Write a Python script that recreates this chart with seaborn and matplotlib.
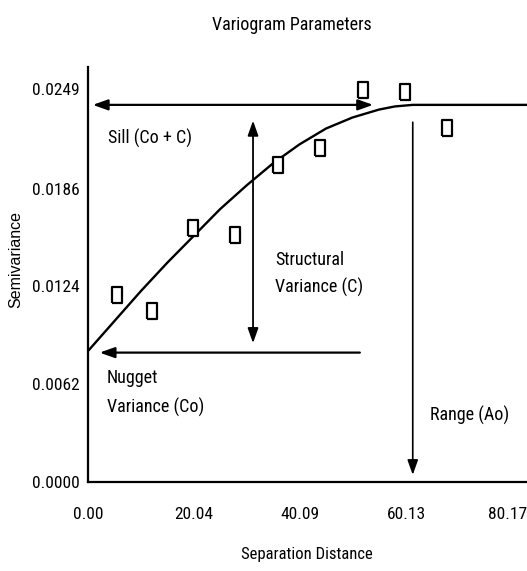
import matplotlib
matplotlib.use("Agg")
import matplotlib.pyplot as plt
import matplotlib.transforms as mtransforms
from matplotlib import font_manager
from matplotlib.ticker import FixedLocator, NullFormatter
import seaborn as sns
import pandas as pd

# ---- data ----
lag_distance = [5.5, 12.1, 19.8, 27.8, 35.9, 43.9, 52.0, 59.9, 67.9]
semivariance = [0.01185, 0.01084, 0.0161, 0.01565, 0.0201, 0.02117, 0.02484, 0.02471, 0.02243]

model_distance = [0, 5, 10, 15, 20, 25, 30, 35, 40, 45, 50, 55, 58, 61.4, 83]
model_semivariance = [0.0083, 0.0102, 0.0121, 0.0139, 0.0156, 0.0173, 0.0188, 0.0202,
                      0.0214, 0.0224, 0.0231, 0.0236, 0.0238, 0.0239, 0.0239]

nugget = 0.0082
sill = 0.0239
range_a = 61.4

x_ticks = [0.00, 20.04, 40.09, 60.13, 80.17]
x_tick_labels = ["0.00", "20.04", "40.09", "60.13", "80.17"]
y_ticks = [0.0000, 0.0062, 0.0124, 0.0186, 0.0249]
y_tick_labels = ["0.0000", "0.0062", "0.0124", "0.0186", "0.0249"]

title = "Variogram Parameters"
x_label = "Separation Distance"
y_label = "Semivariance"

# ---- styling ----
sns.set_theme(style="white")
entries = font_manager.fontManager.ttflist
condensed_stretch = {"condensed", "semi-condensed", "extra-condensed", "ultra-condensed"}
narrow_family = None
narrow_stretch = "normal"
for pref in ["Liberation Sans Narrow", "Arial Narrow", "Roboto Condensed", "DejaVu Sans Condensed"]:
    if any(e.name == pref for e in entries):
        narrow_family = pref
        break
if narrow_family is None:
    for pref in ["Noto Sans", "Open Sans", "DejaVu Sans", "Roboto", "Inter", "Lato"]:
        cands = [e for e in entries if e.name == pref and str(e.stretch) in condensed_stretch]
        if cands:
            narrow_family = pref
            narrow_stretch = "condensed"
            break
found_narrow = narrow_family is not None
if not found_narrow:
    narrow_family = "Liberation Sans"
plt.rcParams["font.family"] = [narrow_family, "DejaVu Sans"]
plt.rcParams["font.stretch"] = narrow_stretch

fs_tick = 12.5 if found_narrow else 10.5
fs_ann = 13 if found_narrow else 11
fs_title = 13 if found_narrow else 11.5
fs_xlab = 12 if found_narrow else 10.5

W, H = 527, 571
fig = plt.figure(figsize=(W / 100, H / 100), dpi=100)
ax = fig.add_axes([88 / W, 1 - 482 / H, (W - 88) / W, (482 - 67) / H])

pts = pd.DataFrame({"d": lag_distance, "g": semivariance})
model = pd.DataFrame({"d": model_distance, "g": model_semivariance})

sns.lineplot(data=model, x="d", y="g", ax=ax, color="black", linewidth=1.7, sort=True)
rect = [(-0.68, -1), (0.68, -1), (0.68, 1), (-0.68, 1), (-0.68, -1)]
sns.scatterplot(data=pts, x="d", y="g", ax=ax, marker=rect, s=135,
                facecolor="white", edgecolor="black", linewidth=1.6, zorder=5)

ax.set_xlim(0, 83)
ax.set_ylim(0, 0.0263)

ax.xaxis.set_major_locator(FixedLocator(x_ticks))
ax.set_xticklabels(x_tick_labels)
ax.yaxis.set_major_locator(FixedLocator(y_ticks))
ax.set_yticklabels(y_tick_labels)
ax.xaxis.set_minor_locator(FixedLocator([x_ticks[-1] * i / 12 for i in range(13)]))
ax.yaxis.set_minor_locator(FixedLocator([y_ticks[-1] * i / 12 for i in range(13)]))
ax.xaxis.set_minor_formatter(NullFormatter())
ax.yaxis.set_minor_formatter(NullFormatter())
ax.tick_params(axis="both", which="both", direction="inout", length=6, width=1.5,
               color="black", labelsize=fs_tick, labelcolor="black")
ax.tick_params(axis="x", which="major", pad=15)
ax.tick_params(axis="y", which="major", pad=3)
ax.tick_params(axis="both", which="minor", length=5)

# nudge the last x label so it stays inside the figure, as in the reference
last = ax.xaxis.get_major_ticks()[-1].label1
last.set_transform(last.get_transform()
                   + mtransforms.ScaledTranslation(-4 / 100, 0, fig.dpi_scale_trans))

for s in ["top", "right"]:
    ax.spines[s].set_visible(False)
for s in ["left", "bottom"]:
    ax.spines[s].set_color("black")
    ax.spines[s].set_linewidth(1.6)
ax.set_xlabel("")
ax.set_ylabel("")

# ---- annotation arrows ----
head = "-|>,head_length=0.9,head_width=0.32"
dhead = "<|-|>,head_length=0.9,head_width=0.32"
ax.annotate("", xy=(0.9, sill), xytext=(53.9, sill),
            arrowprops=dict(arrowstyle=dhead, color="black", lw=1.6,
                            mutation_scale=10, shrinkA=0, shrinkB=0))
ax.annotate("", xy=(31.2, 0.0229), xytext=(31.2, 0.0088),
            arrowprops=dict(arrowstyle=dhead, color="black", lw=1.3,
                            mutation_scale=10, shrinkA=0, shrinkB=0))
ax.annotate("", xy=(2.2, nugget), xytext=(51.4, nugget),
            arrowprops=dict(arrowstyle=head, color="black", lw=1.6,
                            mutation_scale=10, shrinkA=0, shrinkB=0))
ax.annotate("", xy=(range_a, 0.00045), xytext=(range_a, 0.0228),
            arrowprops=dict(arrowstyle=head, color="black", lw=1.2,
                            mutation_scale=10, shrinkA=0, shrinkB=0))

tk = dict(fontsize=fs_ann, color="black", ha="left", va="center")
ax.text(3.8, 0.0218, "Sill (Co + C)", **tk)
ax.text(35.4, 0.01407, "Structural", **tk)
ax.text(35.4, 0.01236, "Variance (C)", **tk)
ax.text(3.6, 0.00659, "Nugget", **tk)
ax.text(3.6, 0.00475, "Variance (Co)", **tk)
ax.text(64.7, 0.00425, "Range (Ao)", **tk)

fig.text(292 / W, 1 - 25 / H, title, fontsize=fs_title, ha="center", va="center", color="black")
fig.text(307 / W, 1 - 555 / H, x_label, fontsize=fs_xlab, ha="center", va="center", color="black")
fig.text(16 / W, 1 - 259 / H, y_label, fontsize=11.5, ha="center", va="center",
         rotation=90, color="black", family=["Liberation Sans", "DejaVu Sans"],
         fontstretch="normal")

fig.savefig("out.png", dpi=100)
